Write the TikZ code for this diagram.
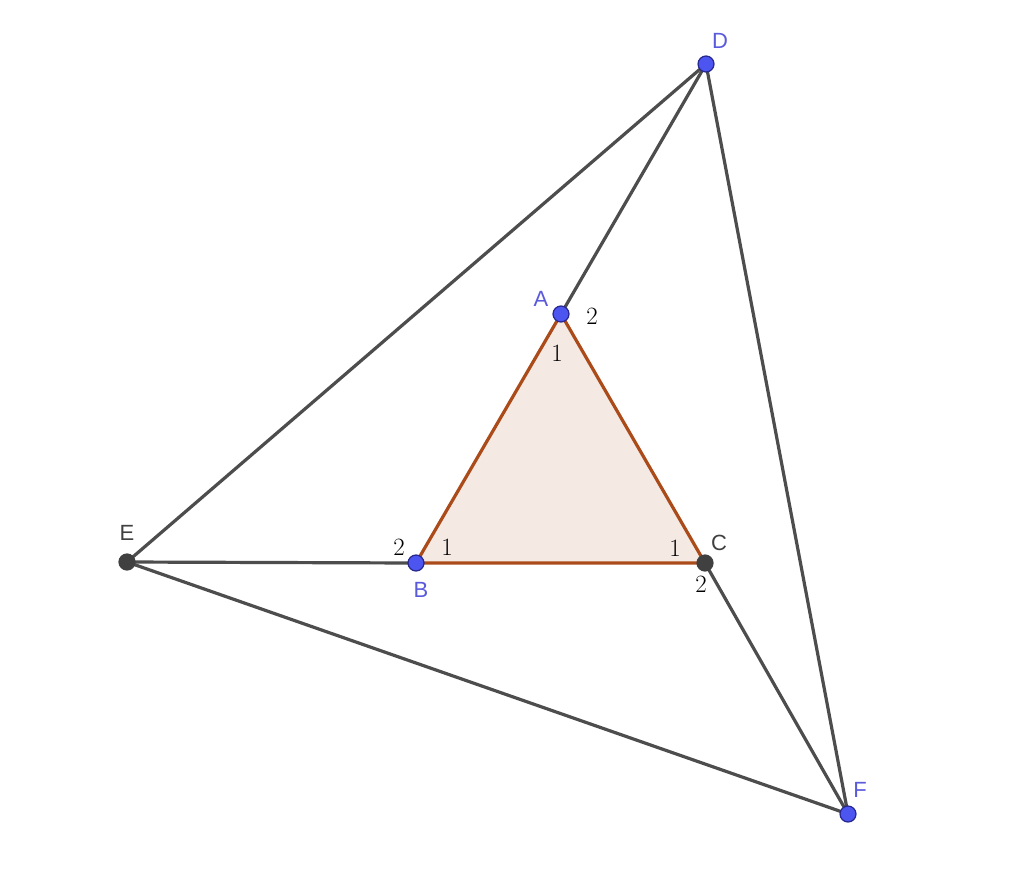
\documentclass[tikz,border=0pt]{standalone}
\usepackage{fontspec}
\newfontfamily\ggbfont{Liberation Sans}
\definecolor{ggbline}{RGB}{77,77,77}
\definecolor{ggbtri}{RGB}{170,75,25}
\definecolor{ggbfill}{RGB}{245,233,228}
\definecolor{ggbblue}{RGB}{77,85,240}
\definecolor{ggblabel}{RGB}{90,90,220}
\definecolor{ggbdark}{RGB}{64,64,64}
\tikzset{
  seg/.style={draw=ggbline, line width=3.2pt},
  freept/.style={circle, fill=ggbblue, draw=ggbdark!60!blue, line width=1.2pt, inner sep=0pt, minimum size=16pt},
  fixpt/.style={circle, fill=ggbdark, draw=ggbdark, line width=1.2pt, inner sep=0pt, minimum size=16pt},
  ptlabel/.style={text=ggblabel, font=\ggbfont\fontsize{22}{22}\selectfont, inner sep=0pt},
  fixlabel/.style={text=ggbdark, font=\ggbfont\fontsize{22}{22}\selectfont, inner sep=0pt},
  anglabel/.style={text=black, font=\fontsize{25}{25}\selectfont, inner sep=0pt}
}
\begin{document}
\begin{tikzpicture}[x=1pt,y=1pt,yscale=-1,xscale=1]
\useasboundingbox[fill=white] (0,0) rectangle (1024,883);

% Points
\coordinate (A) at (561,314);
\coordinate (B) at (416,563);
\coordinate (C) at (705,563);
\coordinate (D) at (706,64);
\coordinate (E) at (127,562);
\coordinate (F) at (848,814);

%Shape: Triangle ABC
\fill [ggbfill] (A) -- (B) -- (C) -- cycle;

%Straight Lines
\draw [seg] (E) -- (D);
\draw [seg] (D) -- (F);
\draw [seg] (F) -- (E);
\draw [seg] (A) -- (D);
\draw [seg] (B) -- (E);
\draw [seg] (C) -- (F);

%Triangle edges
\draw [draw=ggbtri, line width=3.2pt, line join=round] (A) -- (B) -- (C) -- cycle;

% Point markers
\node [freept] (pA) at (A) {};
\node [freept] (pB) at (B) {};
\node [fixpt] (pC) at (C) {};
\node [freept] (pD) at (D) {};
\node [fixpt] (pE) at (E) {};
\node [freept] (pF) at (F) {};

% Text Node
\node [ptlabel] (lA) at (541,299) {A};
\node [ptlabel] (lB) at (421,590) {B};
\node [fixlabel] (lC) at (719,543) {C};
\node [ptlabel] (lD) at (720,41) {D};
\node [fixlabel] (lE) at (127,533) {E};
\node [ptlabel] (lF) at (860,790) {F};

% Angle labels
\node [anglabel] (a1) at (557,353) {$1$};
\node [anglabel] (a2) at (592,316) {$2$};
\node [anglabel] (b1) at (447,547) {$1$};
\node [anglabel] (b2) at (399,547) {$2$};
\node [anglabel] (c1) at (675,548) {$1$};
\node [anglabel] (c2) at (701,584) {$2$};
\end{tikzpicture}
\end{document}
